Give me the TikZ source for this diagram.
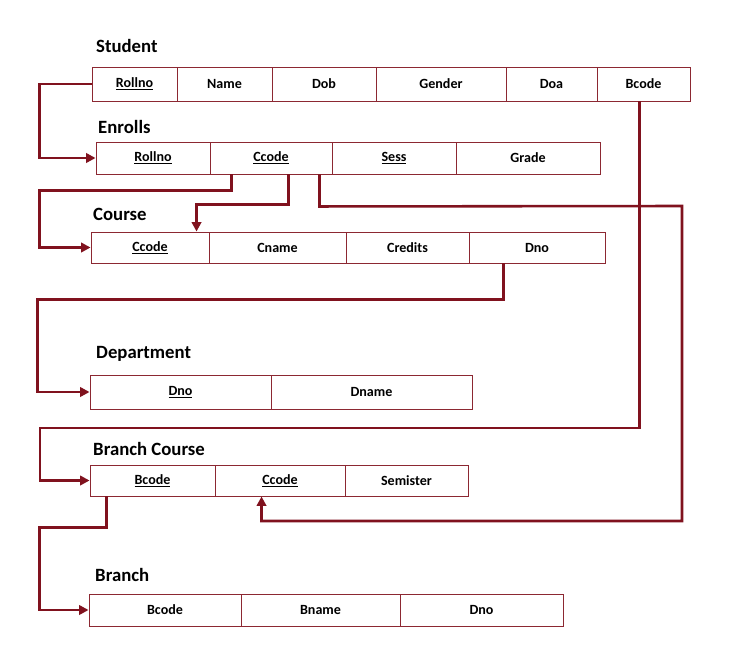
\documentclass[tikz,border=0pt]{standalone}
\usepackage{fontspec}
\setmainfont{Carlito}
\usetikzlibrary{positioning,calc,arrows.meta}
\definecolor{keyred}{RGB}{128,18,30}
\definecolor{cellline}{RGB}{140,40,50}

\tikzset{
  cell/.style={draw=cellline, line width=0.8pt, inner sep=0pt, font=\bfseries\fontsize{12}{14}\selectfont},
  title/.style={anchor=west, inner sep=0pt, font=\bfseries\fontsize{16}{18}\selectfont},
  link/.style={draw=keyred, line width=2.2pt, -{Triangle[length=8pt,width=8pt]}}
}

% one table cell between x1 and x2, y1 and y2
\newcommand{\tcell}[6]{%
  \node[cell, minimum width={(#3-#2)*0.03cm}, minimum height={(#5-#4)*0.03cm}]
    (#1) at ({(#2+#3)/2},{(#4+#5)/2}) {#6};}

\begin{document}
\begin{tikzpicture}[x=0.03cm, y=-0.03cm]
\useasboundingbox (0,0) rectangle (733,669);

%---------STUDENT-----------%
\node[title] (student) at (96,46) {Student};
\tcell{s1}{92}{177}{67}{101}{\underline{Rollno}}
\tcell{s2}{177}{272}{67}{101}{Name}
\tcell{s3}{272}{376}{67}{101}{Dob}
\tcell{s4}{376}{506}{67}{101}{Gender}
\tcell{s5}{506}{597}{67}{101}{Doa}
\tcell{s6}{597}{690}{67}{101}{Bcode}

%---------ENROLLS-----------%
\node[title] (enrolls) at (98,127) {Enrolls};
\tcell{e1}{96}{210}{142}{174}{\underline{Rollno}}
\tcell{e2}{210}{332}{142}{174}{\underline{Ccode}}
\tcell{e3}{332}{456}{142}{174}{\underline{Sess}}
\tcell{e4}{456}{600}{142}{174}{Grade}

%---------COURSE-----------%
\node[title] (course) at (93,214) {Course};
\tcell{c1}{91}{209}{232}{263}{\underline{Ccode}}
\tcell{c2}{209}{346}{232}{263}{Cname}
\tcell{c3}{346}{469}{232}{263}{Credits}
\tcell{c4}{469}{605}{232}{263}{Dno}

%---------DEPARTMENT-----------%
\node[title] (department) at (96,354) {Department};
\tcell{d1}{90}{271}{375}{409}{\underline{Dno}}
\tcell{d2}{271}{472}{375}{409}{Dname}

%---------BRANCH COURSE-----------%
\node[title] (branchcourse) at (93,449) {Branch Course};
\tcell{bc1}{90}{215}{465}{496}{\underline{Bcode}}
\tcell{bc2}{215}{345}{465}{496}{\underline{Ccode}}
\tcell{bc3}{345}{468}{465}{496}{Semister}

%---------BRANCH-----------%
\node[title] (branch) at (95,575) {Branch};
\tcell{b1}{89}{241}{594}{626}{Bcode}
\tcell{b2}{241}{400}{594}{626}{Bname}
\tcell{b3}{400}{563}{594}{626}{Dno}

%----------LINKS-------------%
\draw[link] (s1.west) -- ++(-52,0) |- (e1.west);
\draw[link] (e2.south west) ++(22,0) -- ++(0,16) -| ($(c1.west)+(-51,0)$) -- (c1.west);
\draw[link] (e2.south west) ++(79,0) -- ++(0,30) -| ($(c1.north west)+(106,0)$);
\draw[link] (e2.south west) ++(110,0) -- ++(0,32) -- (682,206) -- (682,521)
  -| ($(bc2.south west)+(47,0)$);
\draw[link] (c4.south west) ++(35,0) -- ++(0,36) -| ($(d1.west)+(-52,0)$) -- (d1.west);
\draw[link] (s6.south west) ++(43,0) |- (40,428) |- (bc1.west);
\draw[link] (bc1.south west) ++(17,0) -- ++(0,31) -| ($(b1.west)+(-49,0)$) -- (b1.west);

\end{tikzpicture}
\end{document}
